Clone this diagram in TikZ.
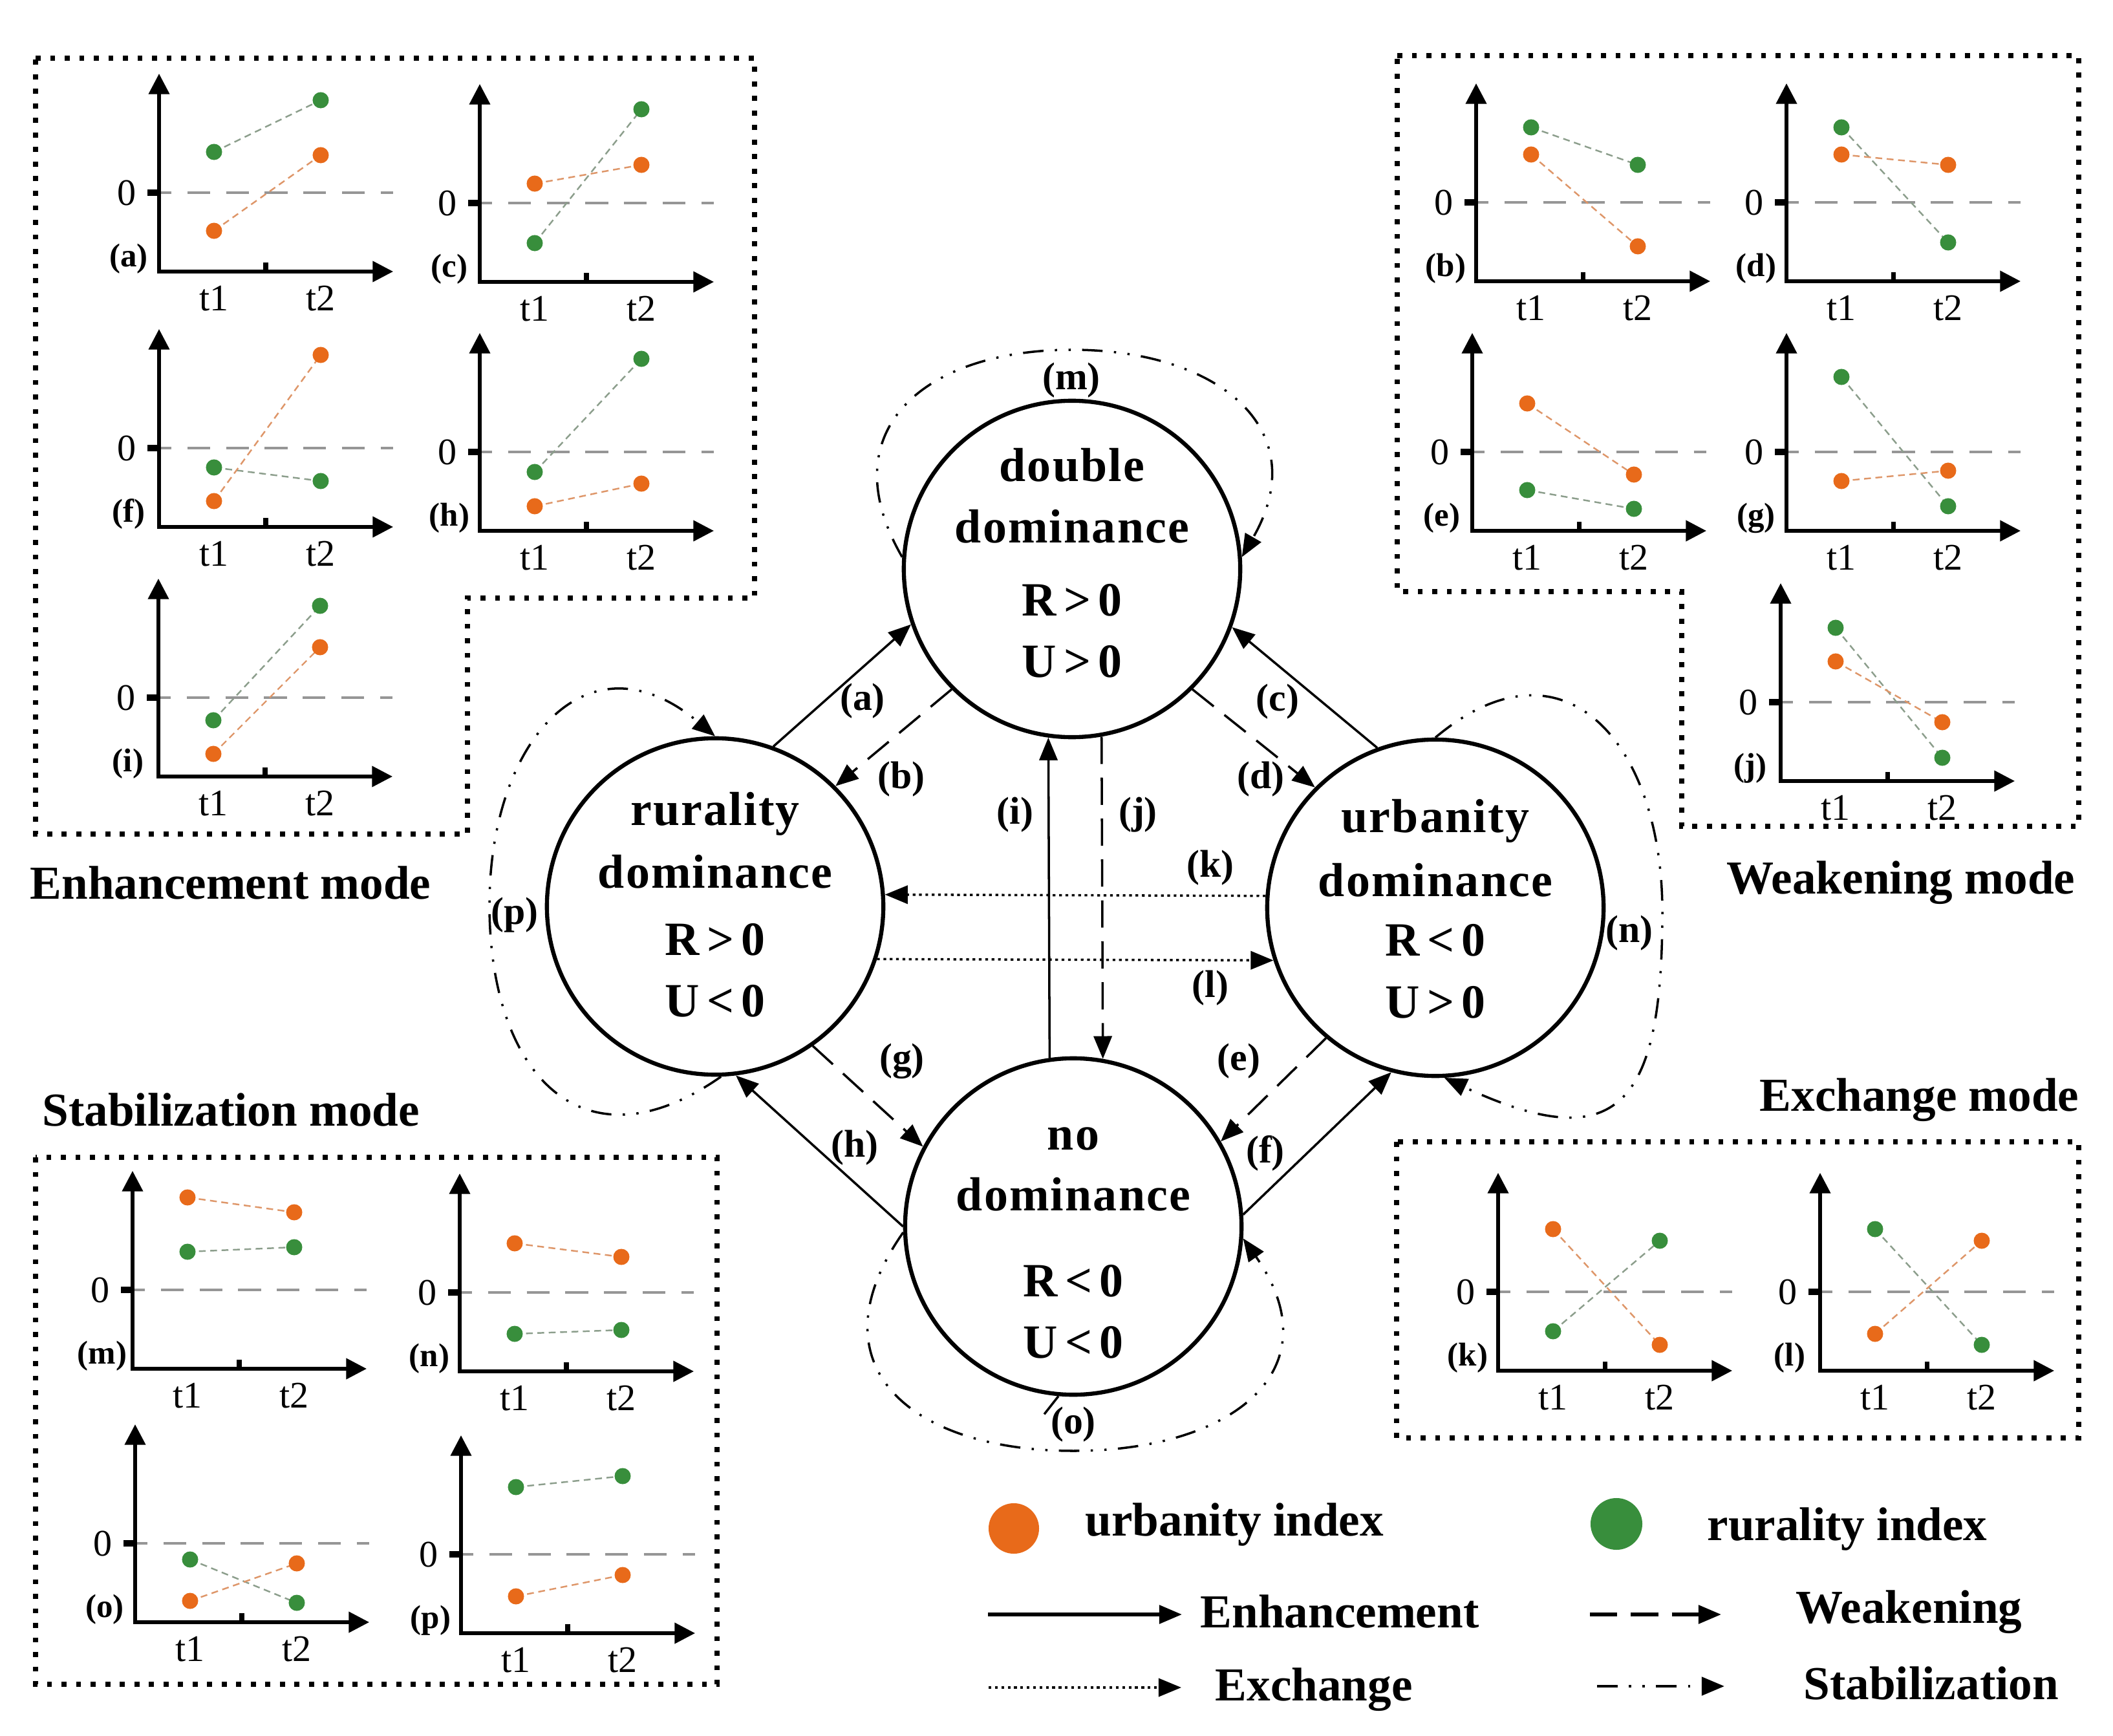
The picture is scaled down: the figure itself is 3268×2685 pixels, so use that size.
\documentclass[tikz,border=0pt]{standalone}
\usepackage{fontspec}
\setmainfont{Liberation Serif}
\newfontfamily\spacedbf[LetterSpace=3]{Liberation Serif}
\usetikzlibrary{arrows.meta}
\definecolor{urb}{RGB}{232,106,26}
\definecolor{rur}{RGB}{56,142,60}
\definecolor{urbl}{RGB}{222,150,105}
\definecolor{rurl}{RGB}{140,158,140}
\definecolor{zerogray}{RGB}{150,150,150}
\tikzset{
  x=0.01cm, y=0.01cm,
  statecircle/.style={circle, draw, line width=1.8pt, minimum size=5.2cm, inner sep=0pt},
  ctext/.style={font=\fontsize{21}{25}\selectfont\spacedbf\bfseries, inner sep=0pt, anchor=base},
  arrlab/.style={font=\fontsize{17}{20}\selectfont\bfseries, inner sep=0pt},
  tlab/.style={font=\fontsize{16.5}{19}\selectfont, inner sep=0pt},
  chlab/.style={font=\fontsize{14.5}{17}\selectfont\bfseries, inner sep=0pt},
  modelab/.style={font=\fontsize{20.8}{25}\selectfont\bfseries, inner sep=0pt, anchor=base west},
  tip/.style={-{Triangle[length=10pt,width=8pt]}},
  enharrow/.style={line width=1pt, tip},
  weakarrow/.style={line width=1pt, tip, dash pattern=on 12pt off 6pt},
  excharrow/.style={line width=1pt, tip, dash pattern=on 1.2pt off 1.6pt},
  stabarrow/.style={line width=1pt, tip, dash pattern=on 9pt off 5pt on 1pt off 5pt on 1pt off 5pt},
  dotbox/.style={line width=2.2pt, dash pattern=on 2.2pt off 4.2pt},
  zeroln/.style={draw=zerogray, line width=1.4pt, dash pattern=on 10pt off 7pt},
  axisln/.style={line width=1.5pt, {Triangle[length=9pt,width=9pt]}-{Triangle[length=9pt,width=9pt]}},
  urbdash/.style={draw=urbl, line width=0.7pt, dash pattern=on 3pt off 2pt},
  rurdash/.style={draw=rurl, line width=0.7pt, dash pattern=on 3pt off 2pt},
}
% #1 ox, #2 oy (pixels, y down), #3 letter, #4 G1, #5 G2, #6 O1, #7 O2 (heights above x-axis)
\newcommand\mychart[7]{%
\begin{scope}[shift={(#1,-#2)}]
\draw[zeroln] (-16,122) -- (362,122);
\draw[line width=2.6pt] (-18,122) -- (0,122);
\draw[rurdash] (85,#4) -- (250,#5);
\draw[urbdash] (85,#6) -- (250,#7);
\fill[rur] (85,#4) circle[radius=0.125cm];
\fill[rur] (250,#5) circle[radius=0.125cm];
\fill[urb] (85,#6) circle[radius=0.125cm];
\fill[urb] (250,#7) circle[radius=0.125cm];
\draw[axisln] (0,306) -- (0,0) -- (362,0);
\draw[line width=2pt] (165,0) -- (165,14);
\node[tlab] (c#3t1) at (85,-42) {t1};
\node[tlab] (c#3t2) at (250,-42) {t2};
\node[tlab] (c#3z) at (-50,122) {0};
\node[chlab] (c#3l) at (-47,20) {(#3)};
\end{scope}}

\begin{document}
\begin{tikzpicture}
\useasboundingbox (0,0) rectangle (3268,-2685);

% ---------- panels ----------
\draw[dotbox] (55,-90) -- (1167,-90) -- (1167,-925) -- (723,-925) -- (723,-1290) -- (55,-1290) -- cycle;
\draw[dotbox] (2161,-86) -- (3215,-86) -- (3215,-1278) -- (2601,-1278) -- (2601,-915) -- (2161,-915) -- cycle;
\draw[dotbox] (55,-1790) rectangle (1109,-2605);
\draw[dotbox] (2160,-1766) rectangle (3215,-2224);

\node[modelab] (mEnh) at (46,-1390) {Enhancement mode};
\node[modelab] (mWeak) at (2670,-1382) {Weakening mode};
\node[modelab] (mStab) at (65,-1741) {Stabilization mode};
\node[modelab] (mExch) at (2721,-1718) {Exchange mode};

% ---------- charts ----------
\mychart{246}{420}{a}{185}{265}{63}{180}
\mychart{742}{436}{c}{60}{267}{152}{181}
\mychart{246}{815}{f}{92}{71}{40}{266}
\mychart{742}{821}{h}{91}{266}{38}{73}
\mychart{245}{1201}{i}{87}{264}{35}{200}
\mychart{2283}{435}{b}{238}{180}{196}{54}
\mychart{2763}{435}{d}{238}{60}{196}{180}
\mychart{2277}{821}{e}{63}{34}{197}{87}
\mychart{2763}{821}{g}{238}{38}{77}{93}
\mychart{2754}{1208}{j}{237}{36}{185}{91}
\mychart{205}{2117}{m}{181}{188}{265}{242}
\mychart{711}{2121}{n}{58}{64}{198}{177}
\mychart{209}{2509}{o}{97}{30}{33}{91}
\mychart{713}{2526}{p}{226}{243}{57}{90}
\mychart{2317}{2120}{k}{61}{201}{219}{40}
\mychart{2815}{2120}{l}{219}{40}{57}{201}

% ---------- central states ----------
\node[statecircle] (D) at (1658,-880) {};
\node[statecircle] (R) at (1106,-1402) {};
\node[statecircle] (U) at (2220,-1404) {};
\node[statecircle] (N) at (1660,-1897) {};

\newcommand\gtr{\hspace{0.15em}>\hspace{0.15em}}
\newcommand\lss{\hspace{0.15em}<\hspace{0.15em}}
\node[ctext] (D1) at ([yshift=1.35cm]D.center) {double};
\node[ctext] (D2) at ([yshift=0.40cm]D.center) {dominance};
\node[ctext] (D3) at ([yshift=-0.72cm]D.center) {R\gtr 0};
\node[ctext] (D4) at ([yshift=-1.67cm]D.center) {U\gtr 0};

\node[ctext] (R1) at ([yshift=1.25cm]R.center) {rurality};
\node[ctext] (R2) at ([yshift=0.28cm]R.center) {dominance};
\node[ctext] (R3) at ([yshift=-0.75cm]R.center) {R\gtr 0};
\node[ctext] (R4) at ([yshift=-1.70cm]R.center) {U\lss 0};

\node[ctext] (U1) at ([yshift=1.16cm]U.center) {urbanity};
\node[ctext] (U2) at ([yshift=0.17cm]U.center) {dominance};
\node[ctext] (U3) at ([yshift=-0.74cm]U.center) {R\lss 0};
\node[ctext] (U4) at ([yshift=-1.70cm]U.center) {U\gtr 0};

\node[ctext] (N1) at ([yshift=1.18cm]N.center) {no};
\node[ctext] (N2) at ([yshift=0.24cm]N.center) {dominance};
\node[ctext] (N3) at ([yshift=-1.08cm]N.center) {R\lss 0};
\node[ctext] (N4) at ([yshift=-2.03cm]N.center) {U\lss 0};

% ---------- transitions ----------
\draw[enharrow] (R.70) -- (D.199);   % a
\draw[weakarrow] (D.225) -- (R.45);  % b
\draw[enharrow] (U.110) -- (D.340);  % c
\draw[weakarrow] (D.315) -- (U.135); % d
\draw[enharrow] (N.98) -- (D.262);   % i
\draw[weakarrow] (D.280) -- (N.80);  % j
\draw[excharrow] (U.176) -- (R.4);   % k
\draw[excharrow] (R.342) -- (U.198); % l
\draw[weakarrow] (R.305) -- (N.152); % g
\draw[enharrow] (N.180) -- (R.277);  % h
\draw[weakarrow] (U.230) -- (N.30);  % e
\draw[enharrow] (N.4) -- (U.255);    % f

% self loops (stabilization)
\coordinate (mtop) at (1658,-541);
\coordinate (pleft) at (757,-1400);
\coordinate (nright) at (2571,-1410);
\coordinate (obot) at (1660,-2244);
\draw[stabarrow] (D.176) to[out=120, in=180, looseness=1.4] (mtop)
                         to[out=0, in=60, looseness=1.4] (D.4);        % m
\draw[stabarrow] (R.272) to[out=215, in=270, looseness=1.5] (pleft)
                         to[out=90, in=140, looseness=1.5] (R.90);     % p
\draw[stabarrow] (U.90) to[out=40, in=90, looseness=1.5] (nright)
                        to[out=270, in=335, looseness=1.8] (U.273);    % n
\draw[stabarrow] (N.182) to[out=235, in=180, looseness=1.5] (obot)
                         to[out=0, in=305, looseness=1.5] (N.356);     % o
\draw[line width=1pt] (N.265) -- ++(-22,-28);

% labels
\node[arrlab] (la) at (1334,-1084) {(a)};
\node[arrlab] (lb) at (1394,-1205) {(b)};
\node[arrlab] (lc) at (1976,-1085) {(c)};
\node[arrlab] (ld) at (1950,-1205) {(d)};
\node[arrlab] (li) at (1570,-1260) {(i)};
\node[arrlab] (lj) at (1760,-1260) {(j)};
\node[arrlab] (lk) at (1872,-1342) {(k)};
\node[arrlab] (ll) at (1872,-1528) {(l)};
\node[arrlab] (lg) at (1395,-1641) {(g)};
\node[arrlab] (lh) at (1322,-1775) {(h)};
\node[arrlab] (le) at (1916,-1641) {(e)};
\node[arrlab] (lf) at (1957,-1784) {(f)};
\node[arrlab] (lm) at (1657,-588) {(m)};
\node[arrlab] (ln) at (2520,-1443) {(n)};
\node[arrlab] (lo) at (1660,-2203) {(o)};
\node[arrlab] (lp) at (796,-1415) {(p)};

% ---------- legend ----------
\node[circle, fill=urb, minimum size=0.78cm, inner sep=0pt] (lgU) at (1568,-2364) {};
\node[modelab] (lgUt) at (1678,-2375) {urbanity index};
\node[circle, fill=rur, minimum size=0.8cm, inner sep=0pt] (lgR) at (2500,-2357) {};
\node[modelab] (lgRt) at (2640,-2382) {rurality index};

\coordinate (lgE1) at (1528,-2497);
\coordinate (lgE2) at (1828,-2497);
\draw[enharrow, line width=1.6pt] (lgE1) -- (lgE2);
\node[modelab] (lgEt) at (1856,-2517) {Enhancement};

\coordinate (lgW1) at (2459,-2497);
\coordinate (lgW2) at (2662,-2497);
\draw[weakarrow, line width=1.6pt] (lgW1) -- (lgW2);
\node[modelab] (lgWt) at (2777,-2510) {Weakening};

\coordinate (lgX1) at (1529,-2610);
\coordinate (lgX2) at (1827,-2610);
\draw[excharrow] (lgX1) -- (lgX2);
\node[modelab] (lgXt) at (1879,-2630) {Exchange};

\coordinate (lgS1) at (2470,-2608);
\coordinate (lgS2) at (2667,-2608);
\draw[stabarrow, line width=1.4pt] (lgS1) -- (lgS2);
\node[modelab] (lgSt) at (2789,-2628) {Stabilization};
\end{tikzpicture}
\end{document}
